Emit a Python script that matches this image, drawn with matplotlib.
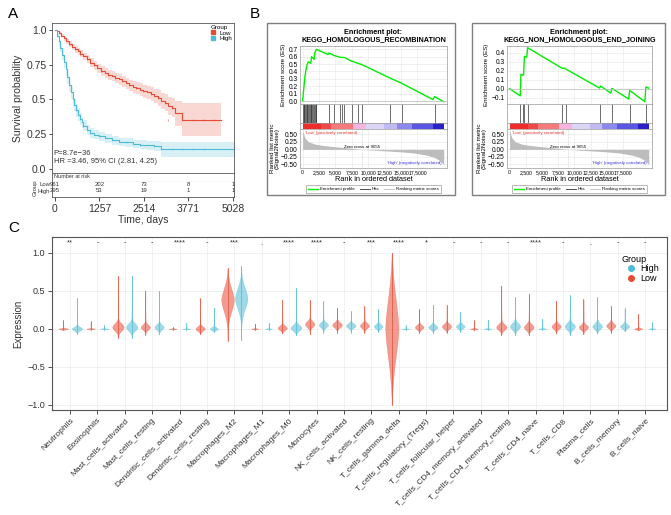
import numpy as np
import matplotlib.pyplot as plt
from matplotlib.patches import Rectangle
from matplotlib.lines import Line2D

plt.rcParams['font.family'] = ['Liberation Sans', 'DejaVu Sans']

RED = '#E64B35'
BLUE = '#4DBBD5'

# ---------------- panel A data (Kaplan-Meier) ----------------
low_t = [0, 60, 120, 180, 250, 320, 400, 480, 560, 640, 720, 800, 900, 1000, 1100, 1200, 1300, 1400,
         1500, 1600, 1700, 1800, 1900, 2000, 2100, 2200, 2300, 2400, 2500, 2600, 2700, 2800, 2900,
         3000, 3100, 3200, 3300, 3400, 3600, 4700]
low_s = [1.0, 0.99, 0.975, 0.96, 0.94, 0.92, 0.90, 0.88, 0.86, 0.845, 0.83, 0.81, 0.79, 0.765, 0.745,
         0.725, 0.705, 0.69, 0.675, 0.665, 0.655, 0.645, 0.63, 0.615, 0.60, 0.59, 0.58, 0.57, 0.56,
         0.55, 0.54, 0.525, 0.51, 0.49, 0.475, 0.455, 0.44, 0.40, 0.355, 0.355]
low_ci = [0.0, 0.005, 0.01, 0.013, 0.016, 0.018, 0.02, 0.022, 0.024, 0.025, 0.026, 0.027, 0.028, 0.03,
          0.031, 0.032, 0.033, 0.034, 0.035, 0.036, 0.037, 0.038, 0.039, 0.04, 0.041, 0.042, 0.043,
          0.045, 0.047, 0.049, 0.051, 0.053, 0.055, 0.058, 0.061, 0.065, 0.07, 0.09, 0.12, 0.12]

high_t = [0, 50, 100, 150, 200, 250, 300, 350, 400, 450, 500, 550, 600, 650, 700, 750, 800, 900, 1000,
          1100, 1257, 1400, 1600, 1800, 2000, 2200, 2400, 2600, 2800, 2950, 3000, 5100]
high_s = [1.0, 0.96, 0.92, 0.87, 0.82, 0.77, 0.72, 0.66, 0.60, 0.55, 0.50, 0.46, 0.42, 0.39, 0.36,
          0.335, 0.31, 0.28, 0.26, 0.245, 0.235, 0.22, 0.205, 0.195, 0.19, 0.18, 0.175, 0.17, 0.165,
          0.165, 0.14, 0.14]
high_ci = [0.0, 0.015, 0.025, 0.032, 0.038, 0.042, 0.045, 0.047, 0.048, 0.048, 0.048, 0.047, 0.046,
           0.045, 0.043, 0.041, 0.04, 0.037, 0.035, 0.033, 0.032, 0.031, 0.03, 0.03, 0.03, 0.03, 0.031,
           0.032, 0.034, 0.036, 0.055, 0.058]

risk_times = [0, 1257, 2514, 3771, 5028]
risk_low = [961, 202, 73, 8, 1]
risk_high = [295, 53, 19, 1, 1]

# ---------------- panel B data (GSEA) ----------------
gsea1_title = 'KEGG_HOMOLOGOUS_RECOMBINATION'
gsea1_rank = [0, 100, 350, 600, 850, 1250, 1350, 1750, 1850, 2100, 3850, 4000, 4850, 5850, 6350, 7350, 9100, 13350, 15100, 19850, 20100, 21500]
gsea1_es = [0.0, 0.10, 0.33, 0.47, 0.53, 0.51, 0.60, 0.565, 0.65, 0.70, 0.63, 0.65, 0.615, 0.59, 0.59, 0.545, 0.49, 0.31, 0.24, 0.02, 0.06, -0.01]
gsea1_hits = [50, 150, 250, 350, 450, 600, 700, 800, 950, 1100, 1200, 1350, 1500, 1600, 1750, 1850, 2000, 2100,
              4000, 4850, 5750, 5950, 6250, 7450, 8450, 9100, 13350, 15100, 20100]

gsea2_title = 'KEGG_NON_HOMOLOGOUS_END_JOINING'
gsea2_rank = [0, 1650, 1750, 2150, 2300, 2650, 2800, 8150, 8400, 13900, 14050, 15650, 15800, 18400, 18550, 20900, 21050, 21500]
gsea2_es = [0.0, -0.08, 0.16, 0.15, 0.36, 0.35, 0.455, 0.225, 0.23, 0.007, 0.03, -0.05, 0.004, -0.115, -0.02, -0.145, 0.02, 0.005]
gsea2_hits = [1650, 2000, 2300, 2800, 8150, 8650, 13900, 15750, 18550, 21050]

metric_rank = [0, 300, 850, 1800, 2850, 4850, 7000, 9055, 12000, 14850, 17000, 18850, 20000, 20850, 21300, 21500]
metric_val = [0.65, 0.40, 0.26, 0.18, 0.14, 0.09, 0.05, 0.0, -0.04, -0.08, -0.12, -0.19, -0.26, -0.36, -0.45, -0.52]

bar_edges = [0, 2850, 4350, 7600, 9600, 12350, 14350, 16600, 19850, 21500]
bar_colors = ['#EE2C2C', '#F04848', '#F57A7A', '#F5B5DF', '#DCD5F5', '#C2BBF2', '#8C88EE', '#5A55E3', '#2A22C8']
rank_ticks = [0, 2500, 5000, 7500, 10000, 12500, 15000, 17500]
rank_labels = ['0', '2,500', '5,000', '7,500', '10,000', '12,500', '15,000', '17,5000']

# ---------------- panel C data (violins) ----------------
cells = ['Neutrophils', 'Eosinophils', 'Mast_cells_activated', 'Mast_cells_resting',
         'Dendritic_cells_activated', 'Dendritic_cells_resting', 'Macrophages_M2', 'Macrophages_M1',
         'Macrophages_M0', 'Monocytes', 'NK_cells_activated', 'NK_cells_resting', 'T_cells_gamma_delta',
         'T_cells_regulatory_(Tregs)', 'T_cells_follicular_helper', 'T_cells_CD4_memory_activated',
         'T_cells_CD4_memory_resting', 'T_cells_CD4_naive', 'T_cells_CD8', 'Plasma_cells',
         'B_cells_memory', 'B_cells_naive']
signif = ['**', '-', '-', '-', '****', '-', '***', '.', '****', '****', '-', '***', '****', '*',
          '-', '-', '-', '****', '-', '.', '-', '-']
# (min, mode, max, half width, body spread)
low_vio = [(-0.02, 0.0, 0.11, 0.17, 0.008), (-0.01, 0.0, 0.10, 0.15, 0.006), (-0.12, 0.02, 0.69, 0.21, 0.05),
           (-0.08, 0.02, 0.50, 0.17, 0.035), (-0.01, 0.0, 0.02, 0.14, 0.004), (-0.07, 0.0, 0.40, 0.17, 0.03),
           (-0.16, 0.38, 0.80, 0.23, 0.17), (-0.01, 0.0, 0.07, 0.13, 0.005), (-0.06, 0.01, 0.38, 0.17, 0.03),
           (-0.07, 0.06, 0.38, 0.17, 0.04), (-0.05, 0.05, 0.28, 0.18, 0.035), (-0.05, 0.04, 0.30, 0.17, 0.035),
           (-1.0, 0.0, 1.0, 0.24, 0.45), (-0.05, 0.02, 0.26, 0.16, 0.03), (-0.05, 0.03, 0.31, 0.17, 0.035),
           (-0.02, 0.0, 0.11, 0.14, 0.006), (-0.08, 0.02, 0.57, 0.19, 0.04), (-0.08, 0.02, 0.46, 0.18, 0.04),
           (-0.06, 0.03, 0.37, 0.17, 0.035), (-0.07, 0.02, 0.39, 0.17, 0.035), (-0.05, 0.04, 0.30, 0.17, 0.035),
           (-0.02, 0.0, 0.20, 0.15, 0.01)]
high_vio = [(-0.07, 0.0, 0.41, 0.19, 0.025), (-0.01, 0.0, 0.05, 0.15, 0.005), (-0.12, 0.02, 0.70, 0.21, 0.05),
            (-0.07, 0.02, 0.50, 0.17, 0.035), (-0.01, 0.0, 0.08, 0.14, 0.004), (-0.04, 0.0, 0.28, 0.15, 0.02),
            (-0.15, 0.40, 0.83, 0.23, 0.15), (-0.01, 0.0, 0.08, 0.13, 0.005), (-0.08, 0.01, 0.54, 0.20, 0.04),
            (-0.05, 0.05, 0.37, 0.17, 0.035), (-0.05, 0.04, 0.23, 0.18, 0.03), (-0.04, 0.03, 0.26, 0.16, 0.03),
            (-0.01, 0.0, 0.05, 0.14, 0.004), (-0.05, 0.02, 0.32, 0.17, 0.03), (-0.04, 0.03, 0.22, 0.16, 0.03),
            (-0.01, 0.0, 0.12, 0.14, 0.005), (-0.08, 0.03, 0.42, 0.19, 0.045), (-0.01, 0.0, 0.13, 0.14, 0.006),
            (-0.08, 0.03, 0.44, 0.19, 0.045), (-0.06, 0.03, 0.42, 0.18, 0.04), (-0.03, 0.03, 0.27, 0.17, 0.03),
            (-0.01, 0.0, 0.09, 0.13, 0.005)]

W, H = 671, 515
fig = plt.figure(figsize=(W / 100, H / 100), dpi=100)


def box(x0, y0, x1, y1):
    # pixel box (origin top-left) -> figure rect
    return [x0 / W, 1 - y1 / H, (x1 - x0) / W, (y1 - y0) / H]


# ================= A =================
fig.text(8 / W, 1 - 14 / H, 'A', fontsize=11, va='center')
axA = fig.add_axes(box(52, 23, 234, 173))
for t, s, ci, c in [(low_t, low_s, low_ci, RED), (high_t, high_s, high_ci, BLUE)]:
    s = np.array(s)
    ci = np.array(ci)
    axA.fill_between(t, s - ci, s + ci, step='post', color=c, alpha=0.22, lw=0)
    axA.step(t, s, where='post', color=c, lw=0.8)
axA.plot(low_t[6:-1:2], low_s[6:-1:2], '|', ms=2, mew=0.4, color=RED)
axA.plot(high_t[12:-1:2], high_s[12:-1:2], '|', ms=2, mew=0.4, color=BLUE)
axA.plot([3200, 3900, 4200, 4500], [0.355] * 4, '|', ms=2, mew=0.4, color=RED)
axA.plot([3300, 3600, 3900, 4200], [0.14] * 4, '|', ms=2, mew=0.4, color=BLUE)
axA.set_xlim(-84, 5060)
axA.set_ylim(-0.03, 1.05)
axA.set_yticks([0, 0.25, 0.5, 0.75, 1.0])
axA.set_yticklabels(['0.0', '0.25', '0.5', '0.75', '1.0'], fontsize=7.5, color='#333333')
axA.set_xticks([])
axA.set_ylabel('Survival probability', fontsize=7.5, color='#333333', labelpad=2)
axA.tick_params(length=2.5, width=0.5, pad=1.5)
for sp in axA.spines.values():
    sp.set_color('#555555')
    sp.set_linewidth(0.6)
axA.text(-40, 0.10, 'P=8.7e\u221236', fontsize=5.5, color='#333333')
axA.text(-40, 0.045, 'HR =3.46, 95% CI (2.81, 4.25)', fontsize=5.5, color='#333333')
axA.legend(handles=[Line2D([], [], marker='s', ls='', color=RED, ms=3, label='Low'),
                    Line2D([], [], marker='s', ls='', color=BLUE, ms=3, label='High')],
           title='Group', loc='upper right', fontsize=4.5, title_fontsize=4.5, frameon=False,
           handletextpad=0.1, borderaxespad=0.2, labelspacing=0.05, borderpad=0.1)

axR = fig.add_axes(box(52, 173, 234, 197))
axR.set_xlim(-84, 5060)
axR.set_ylim(0, 24)
axR.text(-40, 20, 'Number at risk', fontsize=4, va='center', color='#333333')
for t, a, b in zip(risk_times, risk_low, risk_high):
    axR.text(t, 12, str(a), fontsize=4.3, ha='center', va='center', color='#333333')
    axR.text(t, 6, str(b), fontsize=4.3, ha='center', va='center', color='#333333')
axR.axhline(16.5, color='#DDDDDD', lw=0.4, ls=':')
axR.text(-0.01, 12 / 24, 'Low', transform=axR.transAxes, fontsize=4.3, ha='right', va='center', color='#333333')
axR.text(-0.01, 6 / 24, 'High', transform=axR.transAxes, fontsize=4.3, ha='right', va='center', color='#333333')
axR.text(-0.09, 9 / 24, 'Group', transform=axR.transAxes, fontsize=4.3, rotation=90, ha='center', va='center', color='#333333')
axR.set_yticks([])
axR.set_xticks(risk_times)
axR.set_xticklabels([str(t) for t in risk_times], fontsize=7.5, color='#333333')
axR.tick_params(length=3, width=0.5, pad=2)
axR.set_xlabel('Time, days', fontsize=7.5, color='#333333', labelpad=1)
for sp in axR.spines.values():
    sp.set_color('#555555')
    sp.set_linewidth(0.6)

# ================= B =================
fig.text(250 / W, 1 - 14 / H, 'B', fontsize=11, va='center')


def draw_gsea(bx0, bx1, ix0, ix1, title, rank, es, hits, es_lim, es_ticks):
    fig.add_artist(Rectangle((bx0 / W, 1 - 195 / H), (bx1 - bx0) / W, 172 / H,
                             transform=fig.transFigure, fill=False, ec='#7F7F7F', lw=1))
    cx = (ix0 + ix1) / 2 / W
    fig.text(cx, 1 - 32 / H, 'Enrichment plot:', fontsize=5.2, ha='center', va='center', weight='bold')
    fig.text(cx, 1 - 39.5 / H, title, fontsize=5.2, ha='center', va='center', weight='bold')

    ax1 = fig.add_axes(box(ix0, 46, ix1, 104))
    ax1.plot(rank, es, color='#00EE00', lw=1.0)
    ax1.axhline(0, color='#BBBBBB', lw=0.5)
    ax1.set_xlim(-400, 22000)
    ax1.set_ylim(*es_lim)
    ax1.set_yticks(es_ticks)
    ax1.set_yticklabels(['%.1f' % v if v >= 0 else '\u2212%.1f' % -v for v in es_ticks], fontsize=4.8)
    ax1.set_xticks(rank_ticks)
    ax1.set_xticklabels([])
    ax1.tick_params(length=0, pad=1.5)
    ax1.grid(True, color='#E6E6E6', lw=0.4)
    ax1.set_ylabel('Enrichment score (ES)', fontsize=4.5, labelpad=2)

    ax2 = fig.add_axes(box(ix0, 104, ix1, 123))
    ax2.vlines(hits, 0, 1, color='#333333', lw=0.5)
    ax2.set_xlim(-400, 22000)
    ax2.set_ylim(0, 1)
    ax2.set_xticks([])
    ax2.set_yticks([])

    ax3 = fig.add_axes(box(ix0, 123, ix1, 129))
    for k in range(len(bar_colors)):
        ax3.axvspan(bar_edges[k], bar_edges[k + 1], color=bar_colors[k], lw=0)
    ax3.set_xlim(-400, 22000)
    ax3.set_xticks([])
    ax3.set_yticks([])

    ax4 = fig.add_axes(box(ix0, 129, ix1, 168))
    ax4.fill_between(metric_rank, 0, metric_val, color='#BDBDBD', lw=0)
    ax4.axvline(9055, color='#AAAAAA', lw=0.4, ls=':')
    ax4.set_xlim(-400, 22000)
    ax4.set_ylim(-0.62, 0.68)
    ax4.set_yticks([0.5, 0.25, 0, -0.25, -0.5])
    ax4.set_yticklabels(['0.50', '0.25', '0.00', '\u22120.25', '\u22120.50'], fontsize=4.8)
    ax4.set_xticks(rank_ticks)
    ax4.set_xticklabels(rank_labels, fontsize=3.7)
    ax4.tick_params(length=0, pad=1.5)
    ax4.grid(True, color='#E6E6E6', lw=0.4)
    ax4.set_axisbelow(True)
    ax4.text(9055, 0.02, 'Zero cross at 9055', fontsize=3.2, ha='center', va='bottom')
    ax4.text(300, 0.62, "'Low' (positively correlated)", fontsize=3.2, color='#E8332B', va='top')
    ax4.text(17000, -0.44, "'High' (negatively correlated)", fontsize=3.2, color='#3A32D8', ha='center', va='center')
    ax4.set_xlabel('Rank in ordered dataset', fontsize=5.3, labelpad=1)
    ax4.set_ylabel('Ranked list metric\n(Signal2Noise)', fontsize=4.5, labelpad=1, linespacing=0.9)
    for a in (ax1, ax2, ax3, ax4):
        for sp in a.spines.values():
            sp.set_color('#999999')
            sp.set_linewidth(0.5)

    lx = (ix0 + ix1) / 2 / W
    fig.legend(handles=[Line2D([], [], color='#00EE00', lw=1),
                        Line2D([], [], color='#333333', lw=0.6),
                        Line2D([], [], color='#BDBDBD', lw=0.6)],
               labels=['Enrichment profile', 'Hits', 'Ranking metric scores'],
               loc='center', bbox_to_anchor=(lx, 1 - 189 / H), ncol=3, fontsize=3.2,
               frameon=True, fancybox=False, edgecolor='#888888', handlelength=2.2,
               columnspacing=1.2, borderpad=0.4, handletextpad=0.4).get_frame().set_linewidth(0.5)


draw_gsea(267, 455, 300, 447, gsea1_title, gsea1_rank, gsea1_es, gsea1_hits,
          (-0.04, 0.745), [0.0, 0.1, 0.2, 0.3, 0.4, 0.5, 0.6, 0.7])
draw_gsea(472, 665, 507, 652, gsea2_title, gsea2_rank, gsea2_es, gsea2_hits,
          (-0.17, 0.474), [-0.1, 0.0, 0.1, 0.2, 0.3, 0.4])

# ================= C =================
fig.text(8 / W, 1 - 228 / H, 'C', fontsize=11, va='center')
axC = fig.add_axes(box(52, 237, 667, 410))


def violin(ax, x, params, color):
    lo, mode, hi, hw, sd = params
    y = np.linspace(lo, hi, 300)
    body = np.exp(-0.5 * ((y - mode) / sd) ** 2)
    tail = 0.07 * np.clip((hi - y) / (hi - mode), 0, 1) ** 1.5
    w = np.maximum(body, np.where(y > mode, tail, 0))
    w = w * np.clip((y - lo) / max(mode - lo, 1e-6), 0, 1) ** 0.4
    w = w * np.clip((hi - y) / max(hi - mode, 1e-6), 0, 1) ** 0.3
    ax.fill_betweenx(y, x - hw * w, x + hw * w, facecolor=color, alpha=0.55,
                     edgecolor=color, lw=0.3, zorder=3)
    ax.plot([x, x], [lo, hi], color=color, lw=0.5, zorder=4)


for i in range(len(cells)):
    violin(axC, i - 0.25, low_vio[i], RED)
    violin(axC, i + 0.25, high_vio[i], BLUE)
    axC.text(i, 1.13, signif[i], fontsize=5.5, ha='center', va='center', color='#333333')

axC.set_xlim(-0.66, 21.8)
axC.set_ylim(-1.07, 1.21)
axC.set_xticks(range(len(cells)))
axC.set_xticklabels(cells, rotation=45, ha='right', rotation_mode='anchor', fontsize=6, color='#333333')
axC.set_yticks([-1.0, -0.5, 0.0, 0.5, 1.0])
axC.set_yticklabels(['\u22121.0', '\u22120.5', '0.0', '0.5', '1.0'], fontsize=6.5, color='#333333')
axC.tick_params(length=3, width=0.6, pad=2, color='#333333')
axC.grid(True, color='#EBEBEB', lw=0.5)
axC.set_axisbelow(True)
axC.set_ylabel('Expression', fontsize=7, color='#333333', labelpad=3)
for sp in axC.spines.values():
    sp.set_color('#555555')
    sp.set_linewidth(0.8)
axC.legend(handles=[Line2D([], [], marker='o', ls='', color=BLUE, ms=4, label='High'),
                    Line2D([], [], marker='o', ls='', color=RED, ms=4, label='Low')],
           title='Group', loc='upper right', bbox_to_anchor=(0.995, 0.93), fontsize=6.5,
           title_fontsize=6.5, frameon=False, handletextpad=0.0, labelspacing=0.1,
           borderpad=0.1)._legend_box.align = 'left'

fig.savefig('out.png', dpi=100)
